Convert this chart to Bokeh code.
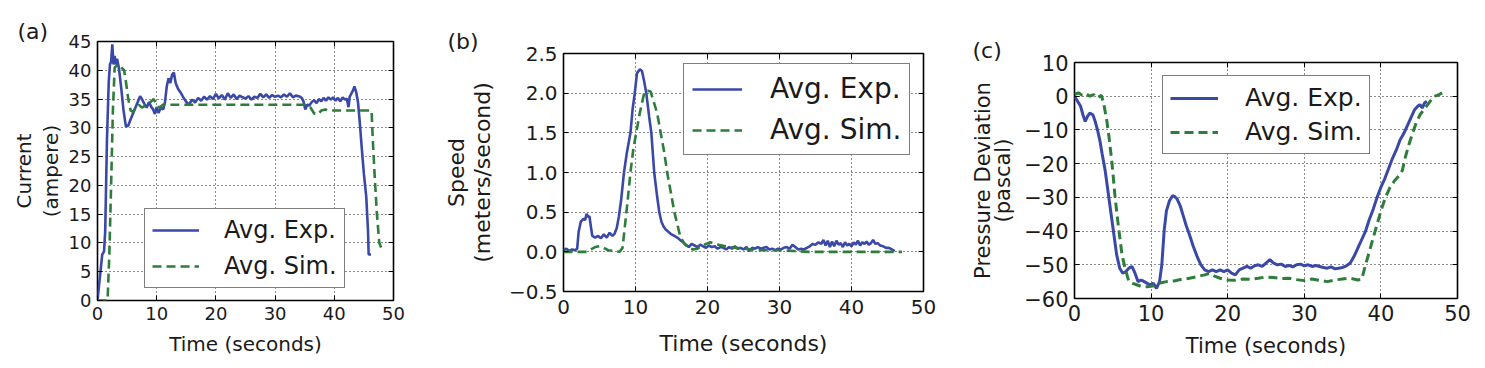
import math
from bokeh.plotting import figure
from bokeh.models import LinearAxis, FixedTicker, Legend, LegendItem
from bokeh.layouts import row, column
from bokeh.embed import file_html
from bokeh.resources import INLINE

# ---------------- data ----------------
x_ticks = [0, 10, 20, 30, 40, 50]

# (a) current
a_exp_t = [0, 0.2, 0.5, 0.8, 1.1, 1.3, 1.6, 1.9, 2.1, 2.3, 2.5, 2.7, 2.9, 3.1, 3.3, 3.6, 4.0, 4.4, 4.8, 5.2,
           5.6, 6.0, 6.4, 6.8, 7.2, 7.5, 7.9, 8.3, 8.7, 9.1, 9.4, 9.7, 10.0, 10.3, 10.7, 11.1, 11.4, 11.7, 12.0,
           12.3, 12.6, 12.9, 13.2, 13.6, 14.0, 14.5, 15.0, 15.4, 15.8,
           16.0, 16.5, 17.0, 17.5, 18.0, 18.5, 19.0, 19.5, 20.0, 20.5, 21.0, 21.5, 22.0, 22.5, 23.0, 23.5, 24.0,
           24.5, 25.0, 25.5, 26.0, 26.5, 27.0, 27.5, 28.0, 28.5, 29.0, 29.5, 30.0, 30.5, 31.0, 31.5, 32.0, 32.5,
           33.0, 33.5, 34.0, 34.5, 34.8, 35.1, 35.4, 35.8, 36.2, 36.6, 37.0, 37.4, 37.8, 38.2, 38.6, 39.0, 39.4,
           39.8, 40.2, 40.6, 41.0, 41.4, 41.8, 42.1, 42.4, 42.6, 42.9, 43.2, 43.4, 43.7, 44.0, 44.3, 44.6, 45.0,
           45.4, 45.7, 45.8, 46.2]
a_exp_v = [0, 2, 5, 8, 8.5, 12, 28, 38, 41, 41.5, 44.5, 41, 42.5, 41, 42, 40.5, 37, 33, 30.2, 30.4,
           31.5, 32.5, 33.5, 34.5, 35.5, 35, 34.2, 33.5, 34.5, 33.6, 33.2, 32.4, 33.6, 32.6, 33.5, 33.2, 34.5, 37.2, 38.6,
           37.8, 39.2, 39.6, 37.8, 36.8, 36.2, 35.3, 34.5, 34.0, 34.6,
           34.9, 34.4, 35.2, 34.7, 35.4, 34.9, 35.5, 35.0, 35.9, 35.1, 35.7, 34.9, 36.0, 35.2, 35.8, 35.0, 35.6,
           35.3, 35.1, 35.5, 34.9, 35.4, 35.2, 35.9, 35.3, 35.8, 35.2, 35.7, 35.4, 35.6, 35.3, 35.8, 35.4, 36.0,
           35.3, 35.6, 35.5, 35.2, 34.6, 33.2, 34.0, 33.9, 34.5, 34.8, 34.3, 35.0, 34.6, 35.2, 34.7, 35.3, 34.9,
           35.3, 34.7, 35.2, 34.6, 35.3, 34.9, 35.1, 33.6, 35.4, 36.0, 36.6, 37.2, 36.2, 34.5, 31.0, 27.0, 22.0,
           18.0, 12.0, 8.0, 8.0]
a_sim_t = [0, 1.7, 2.0, 2.3, 2.6, 2.9, 3.5, 4.0, 4.5, 4.8, 5.2, 5.6, 6.0, 6.5, 7.0, 7.5, 8.0, 8.5, 9.0, 9.5,
           10.0, 10.5, 11.0, 35.0, 36.0, 36.6, 37.2, 37.8, 38.5, 39.0, 46.3, 46.5, 46.8, 47.2, 47.6, 48.0]
a_sim_v = [0, 0, 8, 20, 33, 40.5, 41, 40.5, 40, 38, 35, 33, 32.8, 33.5, 34, 33.5, 33.8, 34.2, 34.5, 35,
           34, 33.5, 34, 34, 33.5, 32.5, 32.3, 33, 33.2, 33, 33, 28, 22, 15, 10, 9]
a_y_ticks = [0, 5, 10, 15, 20, 25, 30, 35, 40, 45]

# (b) speed
b_exp_t = [0, 0.4, 0.8, 1.2, 1.6, 1.9, 2.1, 2.4, 2.8, 3.0, 3.2, 3.4, 3.6, 3.8, 4.0, 4.4, 4.8, 5.2, 5.6, 6.0,
           6.4, 6.8, 7.1, 7.4, 7.7, 8.0, 8.4, 8.8, 9.3, 9.6, 9.9, 10.2, 10.6, 10.9, 11.2, 11.5, 11.9, 12.2, 12.6,
           13.0, 13.3, 13.6, 13.9, 14.2, 14.6, 15.0, 15.4, 15.8, 16.2, 16.6, 17.0, 17.4, 17.8, 18.2, 18.6, 19.0,
           19.4, 19.8, 20.2, 20.6, 21.0, 21.4, 21.8, 22.2, 22.6, 23.0, 23.4, 23.8, 24.2, 24.6, 25.0, 25.4, 25.8,
           26.2, 26.6, 27.0, 27.4, 27.8, 28.2, 28.6, 29.0, 29.4, 29.8, 30.2, 30.6, 31.0, 31.4, 31.8, 32.2, 32.6,
           33.0, 33.4, 33.8, 34.2, 34.6, 35.0, 35.4, 35.8, 36.1, 36.4, 36.7, 37.0, 37.3, 37.6, 37.9, 38.2, 38.5,
           38.8, 39.1, 39.4, 39.7, 40.0, 40.3, 40.6, 40.9, 41.2, 41.5, 41.8, 42.1, 42.4, 42.7, 43.0, 43.3, 43.6,
           44.0, 44.4, 44.8, 45.2, 45.6, 46.0]
b_exp_v = [0.02, 0.04, 0.01, 0.03, 0.02, 0.04, 0.25, 0.38, 0.42, 0.40, 0.48, 0.44, 0.45, 0.32, 0.2, 0.18, 0.2,
           0.17, 0.22, 0.18, 0.24, 0.2, 0.23, 0.3, 0.45, 0.65, 1.0, 1.25, 1.5, 1.8, 2.0, 2.25, 2.3, 2.28, 2.15, 2.0,
           1.7, 1.5, 1.0, 0.7, 0.5, 0.38, 0.32, 0.28, 0.25, 0.22, 0.2, 0.18, 0.15, 0.12, 0.09, 0.06, 0.1, 0.08, 0.06,
           0.09, 0.07, 0.05, 0.08, 0.06, 0.07, 0.04, 0.06, 0.05, 0.03, 0.06, 0.04, 0.07, 0.04, 0.05, 0.03, 0.06, 0.01,
           0.05, 0.04, 0.06, 0.04, 0.05, 0.06, 0.03, 0.04, 0.02, 0.04, 0.03, 0.05, 0.06, 0.04, 0.09, 0.06, 0.03,
           0.04, 0.03, 0.05, 0.07, 0.1, 0.09, 0.12, 0.1, 0.15, 0.08, 0.14, 0.06, 0.13, 0.07, 0.14, 0.09, 0.11,
           0.06, 0.12, 0.08, 0.1, 0.07, 0.12, 0.09, 0.14, 0.08, 0.12, 0.1, 0.13, 0.09, 0.11, 0.15, 0.1, 0.11,
           0.08, 0.07, 0.05, 0.05, 0.03, 0.01]
b_sim_t = [0, 3.2, 3.8, 4.4, 5.0, 5.6, 6.2, 7.0, 7.8, 8.2, 8.5, 8.8, 9.3, 9.7, 10.1, 10.6, 11.2, 11.7, 12.1,
           12.5, 13.0, 13.5, 14.0, 14.4, 14.9, 15.4, 15.8, 16.2, 16.8, 17.4, 18.0, 18.6, 19.2, 19.8, 20.4, 21.0,
           22.0, 23.0, 24.0, 25.0, 26.0, 27.0, 28.0, 30.0, 32.0, 34.0, 47.0]
b_sim_v = [0, 0, 0.03, 0.06, 0.07, 0.05, 0.02, 0.01, 0.0, 0.05, 0.3, 0.55, 1.0, 1.3, 1.5, 1.75, 2.0, 2.03, 2.02,
           1.9, 1.75, 1.5, 1.25, 1.0, 0.75, 0.5, 0.35, 0.2, 0.1, 0.05, 0.03, 0.04, 0.07, 0.1, 0.12, 0.1,
           0.08, 0.06, 0.05, 0.04, 0.03, 0.02, 0.02, 0.02, 0.01, 0.0, 0.0]
b_y_ticks = [-0.5, 0.0, 0.5, 1.0, 1.5, 2.0, 2.5]
b_y_labels = ["\u22120.5", "0.0", "0.5", "1.0", "1.5", "2.0", "2.5"]

# (c) pressure deviation
c_exp_t = [0, 0.4, 0.8, 1.1, 1.4, 1.7, 2.0, 2.4, 2.7, 3.0, 3.3, 3.6, 4.0, 4.3, 4.6, 4.9, 5.2, 5.5, 5.9, 6.3,
           6.7, 7.1, 7.5, 7.9, 8.3, 8.7, 9.1, 9.5, 9.9, 10.3, 10.7, 11.1, 11.4, 11.7, 12.0, 12.4, 12.8, 13.1, 13.4,
           13.8, 14.2, 14.6, 15.0, 15.5, 16.0, 16.5, 17.0, 17.5, 18.0, 18.5, 19.0, 19.5, 20.0, 20.5, 21.0, 21.5,
           22.0, 22.5, 23.0, 23.5, 24.0, 24.5, 25.0, 25.5, 26.0, 26.5, 27.0, 27.5, 28.0, 28.5, 29.0, 29.5, 30.0,
           30.5, 31.0, 31.5, 32.0, 32.5, 33.0, 33.5, 34.0, 34.5, 35.0, 35.5, 36.0, 36.5, 37.0, 37.5, 38.0, 38.5,
           39.0, 39.5, 40.0, 40.5, 41.0, 41.5, 42.0, 42.5, 43.0, 43.5, 44.0, 44.4, 44.8, 45.1, 45.4, 45.7, 46.0]
c_exp_v = [0, -1.5, -3, -5.5, -7.5, -6, -5, -5.5, -7.5, -10, -13, -17, -22, -27, -32, -37, -42, -47, -51, -52.5,
           -52, -51, -50.5, -52.5, -55, -54.5, -55, -55.5, -56, -55.5, -57, -55, -50, -40, -34, -31, -29.5, -29.8,
           -30.5, -32.5, -35.5, -38.5, -41, -44.5, -47.5, -50, -51.5, -52, -51.5, -52, -51.5, -52, -51.5, -52.5,
           -53, -51.5, -51, -50.5, -51, -50.3, -50, -50.5, -49.5, -48.5, -49.5, -50, -49.8, -50.5, -50.2, -50.6,
           -50, -49.8, -50.3, -50, -50.5, -50.2, -50.5, -50.8, -51, -50.6, -51.2, -51, -50.8, -50.3, -49.5, -47.5,
           -45, -42.5, -40, -36.5, -33.5, -30, -27, -24.5, -21.5, -18.5, -16, -13, -11, -8.5, -6, -4, -3, -2.5,
           -3.5, -2, -1.5]
c_sim_t = [0, 0.5, 1.0, 1.5, 2.0, 2.5, 3.0, 3.5, 3.8, 4.2, 4.5, 4.9, 5.3, 5.7, 6.2, 6.6, 7.1, 7.6, 8.2, 8.8,
           9.5, 10.2, 11.0, 12.0, 13.0, 14.0, 15.0, 16.0, 17.0, 17.6, 18.2, 19.0, 20.0, 21.0, 22.0, 23.0, 24.0,
           25.0, 26.0, 27.0, 28.0, 29.0, 30.0, 31.0, 32.0, 33.0, 34.0, 35.0, 36.0, 37.0, 37.5, 38.0, 38.5, 39.0,
           39.5, 40.0, 40.6, 41.2, 41.8, 42.4, 42.8, 43.2, 43.7, 44.2, 44.6, 45.1, 45.6, 46.1, 46.6, 47.1, 47.6,
           48.0]
c_sim_v = [0.5, 1, 0.3, 0.8, 0, 0.5, -0.5, 0.3, -2, -7, -12, -20, -30, -38, -47, -51, -55, -55.5, -56, -56.5,
           -56.5, -56.3, -55.5, -55, -54.8, -54.3, -54, -53.5, -53, -52.6, -53.3, -54, -54.5, -54.6, -54.2, -54.3,
           -54, -53.6, -53.8, -54.1, -54, -54.4, -54.7, -54.2, -54.6, -55, -54.5, -54.2, -54, -54.5, -54.3, -50,
           -46, -42, -38, -34, -30, -27, -25, -23.5, -22, -18, -14, -10.5, -8, -5.5, -4, -2.5, -1, 0, 0.5, 1]
c_y_ticks = [-60, -50, -40, -30, -20, -10, 0, 10]
c_y_labels = ["\u221260", "\u221250", "\u221240", "\u221230", "\u221220", "\u221210", "0", "10"]

series_labels = ["Avg. Exp.", "Avg. Sim."]
BLUE = "#3a48a8"
GREEN = "#2e7d3b"
FONT = "DejaVu Sans"
TXT = "#1a1a1a"


def panel(exp_t, exp_v, sim_t, sim_v, yr, yticks, ylabels, size, borders, fs_tick, fs_label, fs_leg,
          leg, tag, tag_offset, tag_standoff, ylab, ylab_standoff, ylab_lh, xtick_standoff,
          xlab_standoff, lw):
    W, H = size
    bl, br, bt, bb = borders
    p = figure(width=W, height=H, x_range=(0, 50), y_range=yr,
               output_backend="svg", toolbar_location=None,
               min_border_left=bl, min_border_right=br, min_border_top=bt, min_border_bottom=bb,
               x_axis_location=None, y_axis_location=None)
    p.background_fill_color = "white"
    p.border_fill_color = "white"
    p.outline_line_color = "black"
    p.outline_line_width = 1.6

    xa = LinearAxis(ticker=FixedTicker(ticks=x_ticks), axis_label="Time (seconds)")
    ya = LinearAxis(ticker=FixedTicker(ticks=yticks), axis_label=ylab,
                    major_label_overrides={t: l for t, l in zip(yticks, ylabels)})
    xt = LinearAxis(ticker=FixedTicker(ticks=x_ticks),
                    major_label_overrides={t: "" for t in x_ticks})
    yt = LinearAxis(ticker=FixedTicker(ticks=yticks),
                    major_label_overrides={t: "" for t in yticks})
    for ax in (xa, ya, xt, yt):
        ax.axis_line_color = None
        ax.major_tick_in = 5
        ax.major_tick_out = 0
        ax.major_tick_line_color = "black"
        ax.major_tick_line_width = 1
        ax.minor_tick_line_color = None
        ax.major_label_text_font = FONT
        ax.major_label_text_font_size = fs_tick
        ax.major_label_text_color = TXT
        ax.axis_label_text_font = FONT
        ax.axis_label_text_font_size = fs_label
        ax.axis_label_text_font_style = "normal"
        ax.axis_label_text_color = TXT
    xa.major_label_standoff = xtick_standoff
    ya.major_label_standoff = 6
    xa.axis_label_standoff = xlab_standoff
    ya.axis_label_standoff = ylab_standoff
    ya.axis_label_text_line_height = ylab_lh
    xt.major_label_text_font_size = "1px"
    yt.major_label_text_font_size = "1px"
    xt.major_label_standoff = 0
    yt.major_label_standoff = 0
    p.add_layout(xa, "below")
    p.add_layout(ya, "left")
    p.add_layout(xt, "above")
    p.add_layout(yt, "right")
    # keep the tick-only top axis next to the frame, the title outside it
    p.above = [xt] + [r for r in p.above if r is not xt]

    p.title.text = tag
    p.title.align = "left"
    p.title.offset = tag_offset
    p.title.standoff = tag_standoff
    p.title.text_font = FONT
    p.title.text_font_size = "22px"
    p.title.text_font_style = "normal"
    p.title.text_color = TXT

    p.xgrid.ticker = FixedTicker(ticks=x_ticks)
    p.ygrid.ticker = FixedTicker(ticks=yticks)
    for g in (p.xgrid, p.ygrid):
        g.grid_line_color = "black"
        g.grid_line_dash = "1 3"
        g.grid_line_width = 1
        g.grid_line_alpha = 0.9

    r1 = p.line(exp_t, exp_v, line_color=BLUE, line_width=lw)
    r2 = p.line(sim_t, sim_v, line_color=GREEN, line_width=lw, line_dash="9 5")

    loc, pad, gh, sp, gw, so = leg
    lg = Legend(items=[LegendItem(label=series_labels[0], renderers=[r1]),
                       LegendItem(label=series_labels[1], renderers=[r2])],
                location=loc, margin=0, padding=pad, spacing=sp,
                glyph_width=gw, glyph_height=gh, label_height=gh, label_standoff=so,
                label_text_font=FONT, label_text_font_size=fs_leg, label_text_color=TXT,
                border_line_color="black", border_line_width=1.6,
                background_fill_color="white", background_fill_alpha=1.0)
    p.add_layout(lg)
    return p


pa = panel(a_exp_t, a_exp_v, a_sim_t, a_sim_v, (0, 45), a_y_ticks, [str(t) for t in a_y_ticks],
           (440, 367), (97, 47, 41, 67), "18px", "20px", "24px",
           ((47, 12), 7, 28, 8, 47, 25),
           "(a)", -80, -4, "Current\n(ampere)", 3, 1.1, 6, 9, 2.6)

pb = panel(b_exp_t, b_exp_v, b_sim_t, b_sim_v, (-0.5, 2.5), b_y_ticks, b_y_labels,
           (520, 367), (123, 37, 53, 76), "20px", "22px", "28px",
           ((120, 136), 8, 30, 8, 50, 28),
           "(b)", -116, 0, "Speed\n(meters/second)", 11, 1.05, 8, 14, 2.6)

pc = panel(c_exp_t, c_exp_v, c_sim_t, c_sim_v, (-60, 10), c_y_ticks, c_y_labels,
           (524, 367), (114, 27, 62, 69), "21px", "21px", "25px",
           ((88, 144), 7, 28, 5, 48, 27),
           "(c)", -102, 0, "Pressure Deviation\n(pascal)", 6, 0.85, 6, 10, 3.0)

layout = row(column(pa), column(pb), column(pc), spacing=0)
open("out.html", "w").write(file_html(layout, INLINE))
